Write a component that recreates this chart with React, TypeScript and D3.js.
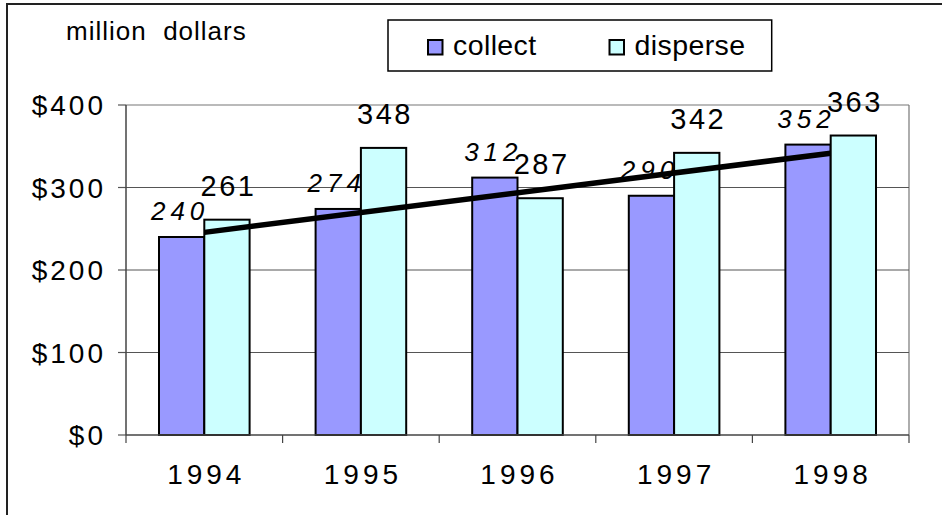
import React from "react";
import * as d3 from "d3";

const years = ["1994", "1995", "1996", "1997", "1998"];
const collect = [240, 274, 312, 290, 352];
const disperse = [261, 348, 287, 342, 363];
const yTicks = [0, 100, 200, 300, 400];
const seriesNames = ["collect", "disperse"];
const seriesColors = ["#9999FF", "#CCFFFF"];

const W = 942;
const H = 515;
const FONT = "'Liberation Sans', Arial, Helvetica, sans-serif";

export default function App() {
  const left = 126, right = 909, top = 105, bottom = 435;
  const x = d3.scaleBand<string>().domain(years).range([left, right]).padding(0);
  const y = d3.scaleLinear().domain([0, 400]).range([bottom, top]);
  const barW = 45.3;

  // linear trendline of collect
  const n = collect.length;
  const xs = d3.range(1, n + 1);
  const mx = d3.mean(xs) as number;
  const my = d3.mean(collect) as number;
  const slope =
    d3.sum(xs.map((xi, i) => (xi - mx) * (collect[i] - my))) /
    d3.sum(xs.map((xi) => (xi - mx) * (xi - mx)));
  const icpt = my - slope * mx;
  const trend = xs.map((xi, i) => [
    (x(years[i]) as number) + x.bandwidth() / 2,
    y(icpt + slope * xi),
  ]) as [number, number][];
  const line = d3.line();

  const cx = (yr: string) => (x(yr) as number) + x.bandwidth() / 2;

  return (
    <svg
      width={W}
      height={H}
      style={{ position: "absolute", left: 0, top: 0, background: "#fff" }}
      fontFamily={FONT}
    >
      <rect x={7} y={4} width={1000} height={600} fill="#fff" stroke="#222" strokeWidth={2} />
      <text x={66} y={40} fontSize={26} letterSpacing={1} style={{ whiteSpace: "pre" }}>
        {"million  dollars"}
      </text>

      {/* legend */}
      <rect x={388} y={20} width={383.7} height={51} fill="#fff" stroke="#000" strokeWidth={1.5} />
      {seriesNames.map((s, i) => {
        const sx = i === 0 ? 428 : 609.5;
        return (
          <g key={s}>
            <rect x={sx} y={40} width={14.5} height={14.5} fill={seriesColors[i]} stroke="#000" strokeWidth={2} />
            <text x={sx + 25} y={55} fontSize={28.5} letterSpacing={0.4}>
              {s}
            </text>
          </g>
        );
      })}

      {/* plot border top/right */}
      <line x1={left} x2={right} y1={top} y2={top} stroke="#777" strokeWidth={1.2} />
      <line x1={right} x2={right} y1={top} y2={bottom} stroke="#777" strokeWidth={1.2} />

      {/* gridlines + y ticks */}
      {yTicks.map((t) => (
        <g key={t}>
          {t > 0 && t < 400 && (
            <line x1={left} x2={right} y1={y(t)} y2={y(t)} stroke="#555" strokeWidth={1} />
          )}
          <line x1={118} x2={left} y1={y(t)} y2={y(t)} stroke="#555" strokeWidth={1.2} />
          <text
            x={106}
            y={y(t) + 10}
            fontSize={28}
            letterSpacing={3}
            textAnchor="end"
          >
            {"$" + t}
          </text>
        </g>
      ))}

      {/* collect labels (under bars) */}
      {collect.map((v, i) => (
        <text
          key={"cl" + i}
          x={cx(years[i]) - barW / 2 - 4 + 2.5}
          y={y(v) - 17}
          fontSize={26}
          fontStyle="italic"
          letterSpacing={5}
          textAnchor="middle"
        >
          {v}
        </text>
      ))}

      {/* bars */}
      {years.map((yr, i) => (
        <g key={yr}>
          <rect
            x={cx(yr) - barW}
            y={y(collect[i])}
            width={barW}
            height={bottom - y(collect[i])}
            fill={seriesColors[0]}
            stroke="#000"
            strokeWidth={2}
          />
          <rect
            x={cx(yr)}
            y={y(disperse[i])}
            width={barW}
            height={bottom - y(disperse[i])}
            fill={seriesColors[1]}
            stroke="#000"
            strokeWidth={2}
          />
        </g>
      ))}

      {/* axes */}
      <line x1={left} x2={left} y1={top} y2={bottom} stroke="#444" strokeWidth={1.5} />
      <line x1={left} x2={right} y1={bottom} y2={bottom} stroke="#444" strokeWidth={1.5} />
      {[...years.map((yr) => x(yr) as number), right].map((tx, i) => (
        <line key={"xt" + i} x1={tx} x2={tx} y1={bottom} y2={bottom + 8} stroke="#444" strokeWidth={1.2} />
      ))}
      {years.map((yr) => (
        <text
          key={"xl" + yr}
          x={cx(yr) + 2}
          y={484}
          fontSize={28}
          letterSpacing={4}
          textAnchor="middle"
        >
          {yr}
        </text>
      ))}

      {/* disperse labels */}
      {disperse.map((v, i) => (
        <text
          key={"dl" + i}
          x={cx(years[i]) + barW / 2 + 1.5}
          y={y(v) - 24}
          fontSize={29}
          letterSpacing={2.5}
          textAnchor="middle"
        >
          {v}
        </text>
      ))}

      {/* trendline */}
      <path
        d={line([trend[0], trend[trend.length - 1]]) as string}
        stroke="#000"
        strokeWidth={5.5}
        fill="none"
      />
    </svg>
  );
}
